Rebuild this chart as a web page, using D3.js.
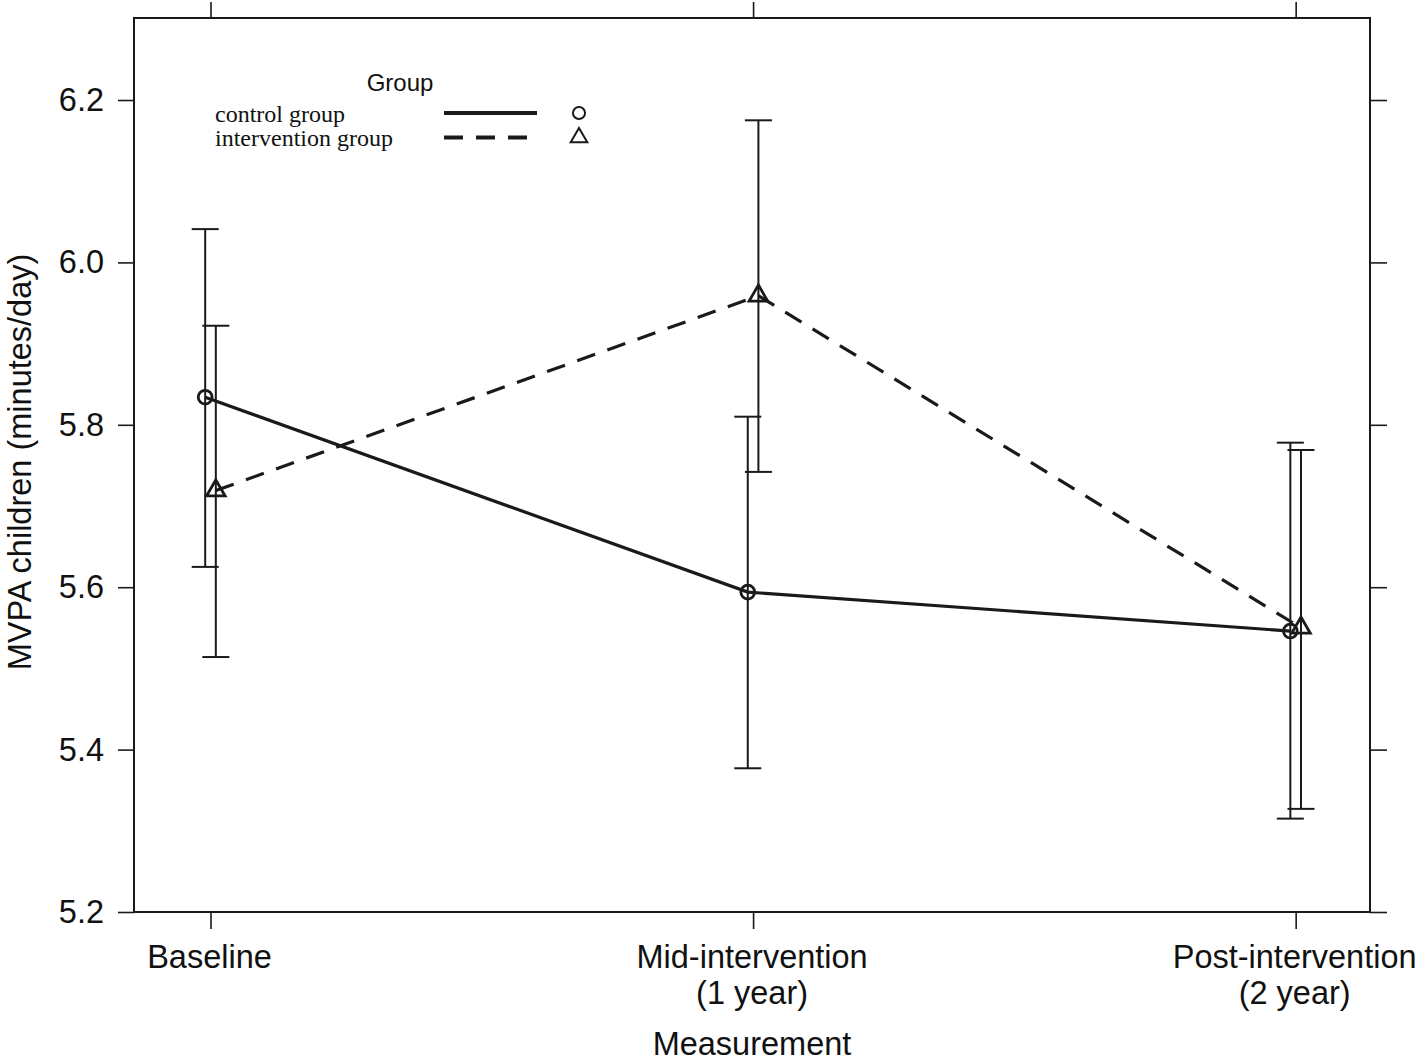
<!DOCTYPE html>
<html>
<head>
<meta charset="utf-8">
<script src="https://cdn.jsdelivr.net/npm/d3@7"></script>
<style>
  html, body { margin: 0; padding: 0; background: #fff; }
  svg { display: block; }
  text { font-family: "Liberation Sans", Arial, Helvetica, sans-serif; fill: #111; }
</style>
</head>
<body>
<script>
// ---------------- data ----------------
const categories = [["Baseline"], ["Mid-intervention", "(1 year)"], ["Post-intervention", "(2 year)"]];
const yTicks = [5.2, 5.4, 5.6, 5.8, 6.0, 6.2];

const controlMean  = [5.834, 5.594, 5.546];
const controlLower = [5.625, 5.377, 5.315];
const controlUpper = [6.041, 5.810, 5.778];

const interventionMean  = [5.719, 5.959, 5.550];
const interventionLower = [5.514, 5.742, 5.327];
const interventionUpper = [5.922, 6.175, 5.769];

const groupNames = ["control group", "intervention group"];
const legendTitle = "Group";
const xTitle = "Measurement";
const yTitle = "MVPA children (minutes/day)";

// ---------------- layout ----------------
const W = 1418, H = 1064;
const plot = { left: 134, right: 1370, top: 18, bottom: 912 };
const dodge = 0.0098;

const x = d3.scaleLinear().domain([0.859, 3.137]).range([plot.left, plot.right]);
const y = d3.scaleLinear().domain([5.2, 6.301]).range([plot.bottom, plot.top]);

const svg = d3.select("body").append("svg").attr("width", W).attr("height", H);

const ink = "#1a1a1a";
const fs = "32.5px";

// axes (lattice style: ticks outward on all four sides)
const fmt = d3.format(".1f");
const idx = categories.map((d, i) => i + 1);

const gl = svg.append("g").attr("transform", `translate(${plot.left},0)`)
  .call(d3.axisLeft(y).tickValues(yTicks).tickFormat(fmt).tickSize(16).tickPadding(14));
const gr = svg.append("g").attr("transform", `translate(${plot.right},0)`)
  .call(d3.axisRight(y).tickValues(yTicks).tickFormat("").tickSize(17));
const gb = svg.append("g").attr("transform", `translate(0,${plot.bottom})`)
  .call(d3.axisBottom(x).tickValues(idx).tickFormat("").tickSize(17));
const gt = svg.append("g").attr("transform", `translate(0,${plot.top})`)
  .call(d3.axisTop(x).tickValues(idx).tickFormat("").tickSize(16));

[gl, gr, gb, gt].forEach(g => {
  g.select(".domain").remove();
  g.selectAll(".tick line").attr("stroke", ink).attr("stroke-width", 1.6);
});
gl.selectAll(".tick text").style("font-size", fs).attr("fill", ink)
  .style("font-family", '"Liberation Sans", Arial, sans-serif');

// x category labels
const xl = svg.append("g");
categories.forEach((lines, i) => {
  const t = xl.append("text")
    .attr("x", x(i + 1) - 1)
    .attr("y", 968)
    .attr("text-anchor", "middle")
    .style("font-size", fs);
  lines.forEach((ln, j) => {
    t.append("tspan").attr("x", x(i + 1) - 1).attr("dy", j === 0 ? 0 : 36).text(ln);
  });
});

// frame
svg.append("rect")
  .attr("x", plot.left).attr("y", plot.top)
  .attr("width", plot.right - plot.left).attr("height", plot.bottom - plot.top)
  .attr("fill", "none").attr("stroke", ink).attr("stroke-width", 2);

// axis titles
svg.append("text").attr("x", (plot.left + plot.right) / 2).attr("y", 1055)
  .attr("text-anchor", "middle").style("font-size", fs).text(xTitle);
svg.append("text")
  .attr("transform", `translate(31,${(plot.top + plot.bottom) / 2 - 3}) rotate(-90)`)
  .attr("text-anchor", "middle").style("font-size", fs).text(yTitle);

// ---------------- series ----------------
const series = [
  { name: groupNames[0], mean: controlMean, lo: controlLower, hi: controlUpper, off: -dodge, dash: null, sym: d3.symbolCircle },
  { name: groupNames[1], mean: interventionMean, lo: interventionLower, hi: interventionUpper, off: dodge, dash: "19,13", sym: d3.symbolTriangle }
];

const line = d3.line().x(d => x(d.x)).y(d => y(d.y));

series.forEach(s => {
  const pts = s.mean.map((v, i) => ({ x: i + 1 + s.off, y: v, lo: s.lo[i], hi: s.hi[i] }));
  const g = svg.append("g");
  // error bars
  g.selectAll("line.bar").data(pts).enter().append("line")
    .attr("x1", d => x(d.x)).attr("x2", d => x(d.x))
    .attr("y1", d => y(d.lo)).attr("y2", d => y(d.hi))
    .attr("stroke", ink).attr("stroke-width", 2);
  ["lo", "hi"].forEach(k => {
    g.selectAll("line.cap" + k).data(pts).enter().append("line")
      .attr("x1", d => x(d.x) - 13.5).attr("x2", d => x(d.x) + 13.5)
      .attr("y1", d => y(d[k])).attr("y2", d => y(d[k]))
      .attr("stroke", ink).attr("stroke-width", 2);
  });
  // line
  g.append("path").datum(pts).attr("d", line)
    .attr("fill", "none").attr("stroke", ink).attr("stroke-width", 3.2)
    .attr("stroke-dasharray", s.dash);
  // markers
  g.selectAll("path.m").data(pts).enter().append("path")
    .attr("transform", d => `translate(${x(d.x)},${y(d.y)})`)
    .attr("d", d3.symbol().type(s.sym).size(150))
    .attr("fill", "none").attr("stroke", ink).attr("stroke-width", 2.8);
});

// ---------------- legend ----------------
const lg = svg.append("g");
lg.append("text").attr("x", 400).attr("y", 91).attr("text-anchor", "middle")
  .style("font-size", "24px").text(legendTitle);
const legendRows = [113, 137.5];
series.forEach((s, i) => {
  lg.append("text").attr("x", 215).attr("y", legendRows[i] + 8.5)
    .style("font-family", '"Liberation Serif", "Times New Roman", serif')
    .style("font-size", "24px").text(s.name);
  lg.append("line").attr("x1", 444).attr("x2", 537)
    .attr("y1", legendRows[i]).attr("y2", legendRows[i])
    .attr("stroke", ink).attr("stroke-width", 4)
    .attr("stroke-dasharray", s.dash);
  lg.append("path")
    .attr("transform", `translate(579,${legendRows[i]})`)
    .attr("d", d3.symbol().type(s.sym).size(s.sym === d3.symbolCircle ? 115 : 120))
    .attr("fill", "none").attr("stroke", ink).attr("stroke-width", 2);
});
</script>
</body>
</html>
